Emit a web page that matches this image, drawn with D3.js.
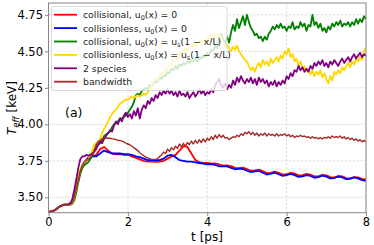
<!DOCTYPE html>
<html><head><meta charset="utf-8">
<script src="https://cdn.jsdelivr.net/npm/d3@7"></script>
<style>body{margin:0;background:#fff}svg{display:block;font-family:"DejaVu Sans",sans-serif}</style>
</head><body><svg id="c" width="374" height="245"></svg>
<script>
// time steps (ps)
const dtFine = 0.05, dtCoarse = 0.1;
const xTicks = [0, 2, 4, 6, 8];
const yTicks = [3.50, 3.75, 4.00, 4.25, 4.50, 4.75];

const collisional0 = [3.40,3.405,3.42,3.44,3.45,3.45,3.47,3.57,3.68,3.74,3.77,3.78,3.79,3.83,3.845,3.82,3.80,3.795,3.795,3.79,3.79,3.78,3.77,3.76,3.75,3.745,3.745,3.742,3.745,3.75,3.765,3.78,3.79,3.82,3.85,3.845,3.80,3.755,3.74,3.735,3.735,
3.730,3.732,3.726,3.716,3.718,3.714,3.702,3.700,3.704,3.694,3.682,3.684,3.690,3.680,3.666,3.668,3.676,3.668,3.656,3.658,3.668,3.662,3.650,3.650,3.660,3.656,3.644,3.644,3.654,3.650,3.638,3.636,3.646,3.644,3.632,3.630,3.638,3.636,3.626,3.622];

const collisionless0 = [3.40,3.405,3.42,3.44,3.45,3.45,3.47,3.57,3.68,3.74,3.77,3.78,3.78,3.80,3.82,3.81,3.80,3.80,3.80,3.795,3.795,3.79,3.78,3.775,3.765,3.755,3.755,3.755,3.755,3.765,3.785,3.79,3.775,3.755,3.75,3.745,3.745,3.74,3.735,3.73,3.725,
3.728,3.722,3.712,3.712,3.712,3.702,3.692,3.696,3.694,3.682,3.672,3.678,3.680,3.668,3.656,3.662,3.668,3.658,3.647,3.652,3.660,3.652,3.640,3.644,3.652,3.646,3.634,3.638,3.648,3.642,3.630,3.632,3.642,3.636,3.624,3.626,3.636,3.630,3.618,3.612];

const collisionalUs = [3.40,3.402,3.405,3.41,3.42,3.43,3.44,3.445,3.45,3.45,3.45,3.45,3.455,3.48,3.53,3.60,3.66,3.70,3.72,3.73,
3.74,3.76,3.78,3.82,3.84,3.86,3.87,3.89,3.92,3.93,3.94,3.95,3.98,4.00,4.01,4.02,4.04,4.04,4.05,4.06,
4.08,4.10,4.12,4.15,4.20,4.21,4.20,4.23,4.24,4.25,4.24,4.27,4.26,4.28,4.30,4.29,4.32,4.31,4.34,4.33,
4.36,4.35,4.38,4.37,4.40,4.38,4.41,4.40,4.42,4.41,4.43,4.42,4.44,4.43,4.45,4.43,4.46,4.45,4.47,4.46,
4.49,4.48,4.51,4.50,4.54,4.52,4.58,4.62,4.58,4.55,4.60,4.56,4.63,4.68,4.64,4.72,4.66,4.70,4.74,4.68,
4.75,4.70,4.66,4.64,4.61,4.62,4.59,4.60,4.57,4.60,4.58,4.62,4.64,4.67,4.65,4.68,4.66,4.69,4.66,4.67,
4.64,4.67,4.66,4.70,4.65,4.67,4.66,4.70,4.67,4.69,4.64,4.68,4.67,4.75,4.68,4.70,4.66,4.69,4.64,4.66,
4.63,4.67,4.65,4.69,4.67,4.70,4.68,4.71,4.67,4.69,4.68,4.70,4.67,4.70,4.68,4.72,4.69,4.72,4.70,4.74,4.72];

const collisionlessUs = [3.40,3.402,3.405,3.41,3.42,3.43,3.44,3.445,3.45,3.45,3.45,3.45,3.46,3.50,3.56,3.63,3.69,3.72,3.74,3.75,
3.76,3.78,3.82,3.86,3.87,3.88,3.90,3.94,3.97,3.99,4.02,4.05,4.07,4.09,4.10,4.12,4.14,4.15,4.16,4.17,
4.17,4.18,4.19,4.18,4.19,4.20,4.19,4.20,4.21,4.20,4.22,4.24,4.27,4.29,4.31,4.30,4.33,4.35,4.34,4.38,
4.39,4.41,4.40,4.45,4.46,4.44,4.48,4.50,4.49,4.52,4.50,4.53,4.55,4.52,4.56,4.54,4.57,4.55,4.58,4.56,
4.58,4.61,4.57,4.60,4.62,4.59,4.62,4.60,4.57,4.53,4.55,4.52,4.50,4.53,4.51,4.54,4.50,4.48,4.46,4.44,
4.43,4.40,4.37,4.39,4.36,4.40,4.42,4.39,4.44,4.41,4.43,4.40,4.45,4.42,4.44,4.46,4.43,4.47,4.45,4.50,
4.48,4.52,4.46,4.48,4.43,4.45,4.40,4.43,4.38,4.40,4.36,4.38,4.34,4.37,4.33,4.36,4.34,4.37,4.32,4.35,
4.31,4.28,4.33,4.30,4.36,4.34,4.37,4.35,4.39,4.37,4.40,4.42,4.39,4.43,4.41,4.45,4.43,4.46,4.44,4.50,4.53];

const twoSpecies = [3.40,3.402,3.405,3.41,3.42,3.43,3.44,3.445,3.45,3.45,3.45,3.455,3.49,3.55,3.62,3.70,3.76,3.78,3.78,3.79,
3.785,3.79,3.80,3.81,3.83,3.86,3.88,3.87,3.90,3.92,3.94,3.96,3.95,3.99,4.02,4.00,4.04,4.02,4.06,4.08,
4.05,4.07,4.04,4.09,4.06,4.11,4.04,4.10,4.13,4.11,4.16,4.14,4.18,4.16,4.20,4.18,4.22,4.20,4.23,4.21,
4.24,4.21,4.23,4.20,4.22,4.19,4.23,4.20,4.21,4.19,4.22,4.18,4.20,4.22,4.19,4.21,4.24,4.21,4.23,4.20,
4.22,4.21,4.24,4.22,4.27,4.29,4.31,4.27,4.25,4.28,4.24,4.27,4.25,4.30,4.27,4.32,4.29,4.33,4.30,4.28,
4.31,4.29,4.32,4.28,4.31,4.27,4.32,4.29,4.31,4.28,4.30,4.26,4.29,4.27,4.30,4.26,4.29,4.27,4.30,4.28,
4.33,4.31,4.35,4.33,4.37,4.36,4.40,4.37,4.39,4.36,4.38,4.36,4.40,4.38,4.42,4.40,4.43,4.41,4.44,4.40,
4.42,4.39,4.43,4.41,4.44,4.42,4.40,4.43,4.45,4.42,4.44,4.46,4.43,4.46,4.48,4.45,4.47,4.49,4.46,4.48,4.47];

const bandwidth = [3.40,3.402,3.405,3.41,3.42,3.43,3.44,3.445,3.45,3.45,3.45,3.45,3.465,3.50,3.56,3.62,3.68,3.72,3.74,3.75,
3.76,3.77,3.79,3.82,3.86,3.88,3.89,3.90,3.905,3.905,3.905,3.905,3.90,3.90,3.895,3.89,3.89,3.885,3.88,3.87,
3.865,3.86,3.85,3.84,3.83,3.82,3.805,3.795,3.785,3.775,3.77,3.765,3.76,3.76,3.76,3.765,3.78,3.79,3.81,3.80,
3.83,3.815,3.84,3.825,3.85,3.835,3.865,3.845,3.87,3.85,3.875,3.86,3.885,3.865,3.89,3.87,3.895,3.875,3.90,3.88,
3.905,3.89,3.915,3.895,3.925,3.905,3.93,3.91,3.925,3.905,3.91,3.895,3.905,3.915,3.91,3.925,3.915,3.935,3.925,3.945,
3.935,3.95,3.93,3.945,3.925,3.94,3.92,3.935,3.925,3.94,3.92,3.935,3.925,3.93,3.92,3.935,3.92,3.93,3.925,3.935,
3.92,3.93,3.915,3.925,3.91,3.92,3.915,3.925,3.915,3.92,3.91,3.915,3.905,3.915,3.905,3.91,3.90,3.91,3.90,3.91,
3.905,3.915,3.905,3.92,3.91,3.915,3.91,3.92,3.905,3.915,3.90,3.91,3.895,3.905,3.89,3.90,3.885,3.895,3.88,3.89,3.88];

const seriesNames = ["collisional0","collisionless0","collisionalUs","collisionlessUs","twoSpecies","bandwidth"];
const seriesColors = ["#ff0000","#0000ff","#008000","#ffd700","#800080","#a52a2a"];
const seriesData = [collisional0, collisionless0, collisionalUs, collisionlessUs, twoSpecies, bandwidth];
const seriesStep = [dtCoarse, dtCoarse, dtFine, dtFine, dtFine, dtFine];
const seriesWidth = [1.8, 1.8, 1.8, 1.8, 1.8, 1.4];

const svg = d3.select("#c");
const L = 48.5, R = 366, T = 3, B = 212.7;
const x = d3.scaleLinear().domain([0, 8]).range([L, R]);
const y = d3.scaleLinear().domain([3.3945, 4.831]).range([B, T]);

// grid
const g = svg.append("g");
g.selectAll(".gx").data(xTicks).join("line")
  .attr("x1", d => x(d)).attr("x2", d => x(d)).attr("y1", T).attr("y2", B)
  .attr("stroke", "#d6d6d6").attr("stroke-width", 0.8).attr("stroke-dasharray", "2.5,1.5");
g.selectAll(".gy").data(yTicks).join("line")
  .attr("x1", L).attr("x2", R).attr("y1", d => y(d)).attr("y2", d => y(d))
  .attr("stroke", "#d6d6d6").attr("stroke-width", 0.8).attr("stroke-dasharray", "2.5,1.5");

// clip
svg.append("clipPath").attr("id", "clip").append("rect")
  .attr("x", L).attr("y", T).attr("width", R - L).attr("height", B - T);

const line = d3.line().x(d => x(d[0])).y(d => y(d[1]));
const lines = svg.append("g").attr("clip-path", "url(#clip)");
seriesData.forEach((arr, i) => {
  const pts = arr.map((v, k) => [k * seriesStep[i], v]);
  lines.append("path").datum(pts).attr("d", line)
    .attr("fill", "none").attr("stroke", seriesColors[i])
    .attr("stroke-width", seriesWidth[i]).attr("stroke-linejoin", "round");
});

// axes
const ax = svg.append("g").attr("transform", `translate(0,${B})`)
  .call(d3.axisBottom(x).tickValues(xTicks).tickFormat(d3.format("d")).tickSize(3.5).tickPadding(2));
const ay = svg.append("g").attr("transform", `translate(${L},0)`)
  .call(d3.axisLeft(y).tickValues(yTicks).tickFormat(d3.format(".2f")).tickSize(3.5).tickPadding(2));
[ax, ay].forEach(a => {
  a.select(".domain").remove();
  a.selectAll("line").attr("stroke", "#888");
  a.selectAll("text").attr("font-size", 11.5).attr("fill", "#000")
    .attr("font-family", "DejaVu Sans");
});
// frame
svg.append("rect").attr("x", L).attr("y", T).attr("width", R - L).attr("height", B - T)
  .attr("fill", "none").attr("stroke", "#888").attr("stroke-width", 1);

// axis labels
svg.append("text").attr("x", 207).attr("y", 241).attr("text-anchor", "middle")
  .attr("font-size", 12).text("t [ps]");
const yl = svg.append("text").attr("transform", "translate(16,108) rotate(-90)")
  .attr("text-anchor", "middle").attr("font-size", 12);
yl.append("tspan").attr("font-style", "italic").text("T");
yl.append("tspan").attr("font-style", "italic").attr("font-size", 8.5).attr("dy", 2.5).text("eff");
yl.append("tspan").attr("dy", -2.5).text(" [keV]");

// panel tag
svg.append("text").attr("x", 65).attr("y", 117).attr("font-size", 12.5).text("(a)");

// legend
const leg = svg.append("g");
leg.append("rect").attr("x", 51.5).attr("y", 6.5).attr("width", 175.5).attr("height", 84)
  .attr("rx", 2.5).attr("fill", "#fff").attr("fill-opacity", 0.8)
  .attr("stroke", "#d0d0d0").attr("stroke-width", 0.8);
const legendLabels = [
  [["collisional, u",""],["0","sub"],["(x) = 0",""]],
  [["collisionless, u",""],["0","sub"],["(x) = 0",""]],
  [["collisional, u",""],["0","sub"],["(x) = u",""],["s","sub"],["(1 \u2212 x/L)",""]],
  [["collisionless, u",""],["0","sub"],["(x) = u",""],["s","sub"],["(1 \u2212 x/L)",""]],
  [["2 species",""]],
  [["bandwidth",""]]
];
legendLabels.forEach((parts, i) => {
  const yy = 14.7 + i * 13.4;
  leg.append("line").attr("x1", 54).attr("x2", 77).attr("y1", yy).attr("y2", yy)
    .attr("stroke", seriesColors[i]).attr("stroke-width", 1.8);
  const t = leg.append("text").attr("x", 83).attr("y", yy + 3.4).attr("font-size", 9.3).attr("fill", "#222");
  let shifted = false;
  parts.forEach(([s, k]) => {
    const sp = t.append("tspan").text(s);
    if (k === "sub" && !shifted) { sp.attr("dy", 2).attr("font-size", 6.5); shifted = true; }
    else if (k !== "sub" && shifted) { sp.attr("dy", -2); shifted = false; }
  });
});
</script></body></html>
